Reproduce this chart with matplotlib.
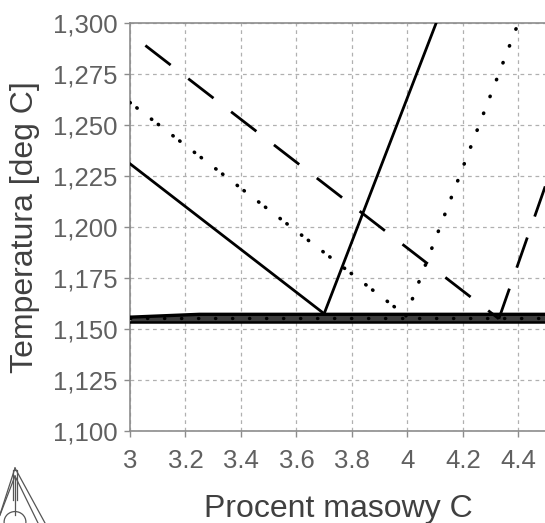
import matplotlib
matplotlib.use("Agg")
import matplotlib.pyplot as plt
from matplotlib.ticker import FuncFormatter, MultipleLocator
from matplotlib.lines import Line2D
from matplotlib.patches import Circle

plt.rcParams['font.family'] = ['Liberation Sans', 'DejaVu Sans']

# liquidus / graphite lines for three alloys (wt% C, deg C)
solid_liq_x = [3.0, 3.70]
solid_liq_y = [1231.0, 1157.5]
solid_gr_x = [3.70, 4.104]
solid_gr_y = [1157.5, 1300.0]

dot_liq_x = [3.0, 3.995]
dot_liq_y = [1261.0, 1156.5]
dot_gr_x = [3.995, 4.40]
dot_gr_y = [1156.5, 1300.0]

dash_liq_x = [3.0, 4.33]
dash_liq_y = [1294.8, 1155.0]
dash_gr_x = [4.33, 4.5]
dash_gr_y = [1155.0, 1221.0]

# eutectic temperatures
eut_x = [3.0, 3.25, 4.5]
eut_top_y = [1155.8, 1157.2, 1157.2]
eut_mid_y = [1155.2, 1155.2, 1155.2]
eut_low_y = [1153.4, 1153.4, 1153.4]

fig = plt.figure(figsize=(5.45, 5.23), dpi=100)
ax = fig.add_axes([130 / 545, 1 - 431 / 523, 416 / 545, 408 / 523])

lw = 2.0
# eutectic band
ax.fill_between(eut_x, eut_low_y, eut_top_y, color='#3c3c3c', lw=0, zorder=2)
ax.plot(eut_x, eut_top_y, color='black', lw=2.4, zorder=3)
ax.plot(eut_x, eut_low_y, color='black', lw=1.8, zorder=3)
ax.plot(eut_x, eut_mid_y, color='black', lw=2.4, zorder=3,
        linestyle=(0, (0.1, 5)), dash_capstyle='round')

# solid alloy
ax.plot(solid_liq_x, solid_liq_y, color='black', lw=lw, zorder=4)
ax.plot(solid_gr_x, solid_gr_y, color='black', lw=lw, zorder=4)

# dotted alloy
ax.plot(dot_liq_x, dot_liq_y, color='black', lw=2.6, zorder=4,
        linestyle=(0, (0.1, 2.3, 0.1, 5.0)), dash_capstyle='round')
ax.plot(dot_gr_x, dot_gr_y, color='black', lw=2.6, zorder=4,
        linestyle=(0, (0.1, 4.9)), dash_capstyle='round')

# dashed alloy
ax.plot(dash_liq_x, dash_liq_y, color='black', lw=lw, zorder=4,
        linestyle=(12.5, (11.5, 8)))
ax.plot(dash_gr_x, dash_gr_y, color='black', lw=lw, zorder=4,
        linestyle=(0, (11.5, 8)))

ax.set_xlim(3.0, 4.5)
ax.set_ylim(1100, 1300)
ax.xaxis.set_major_locator(MultipleLocator(0.2))
ax.yaxis.set_major_locator(MultipleLocator(25))
ax.xaxis.set_major_formatter(FuncFormatter(lambda v, p: f"{v:g}"))
ax.yaxis.set_major_formatter(FuncFormatter(lambda v, p: f"{v:,.0f}"))

ax.grid(True, color='#b0b0b0', lw=0.9, linestyle=(0, (3, 3)))
for s in ['left', 'top', 'bottom']:
    ax.spines[s].set_color('#8c8c8c')
    ax.spines[s].set_linewidth(1.2)
ax.spines['right'].set_visible(False)
ax.tick_params(colors='#8c8c8c', labelcolor='#606060', labelsize=18.5,
               length=4, width=1)
ax.tick_params(axis='x', pad=9)
ax.tick_params(axis='y', pad=5)

ax.set_xlabel("Procent masowy C", fontsize=23, color='#404040', labelpad=15)
ax.set_ylabel("Temperatura [deg C]", fontsize=23, color='#404040', labelpad=9)

# small logo in the corner
W, H = 545, 523
def fl(xs, ys, **kw):
    fig.add_artist(Line2D([x / W for x in xs], [1 - y / H for y in ys],
                          color='#555555', lw=0.9, **kw))
fl([15, -5], [468, 530])
fl([15, 45], [468, 523])
fl([15, 0], [476, 515])
fl([15, 38], [476, 523])
fl([13, 13, 17, 17], [500, 470, 470, 500])
fl([15, 15], [478, 515])
fig.add_artist(Circle((15 / W, 1 - 522 / H), 0.02, transform=fig.transFigure,
                      fill=False, ec='#555555', lw=0.9))

fig.savefig("out.png", dpi=100)
